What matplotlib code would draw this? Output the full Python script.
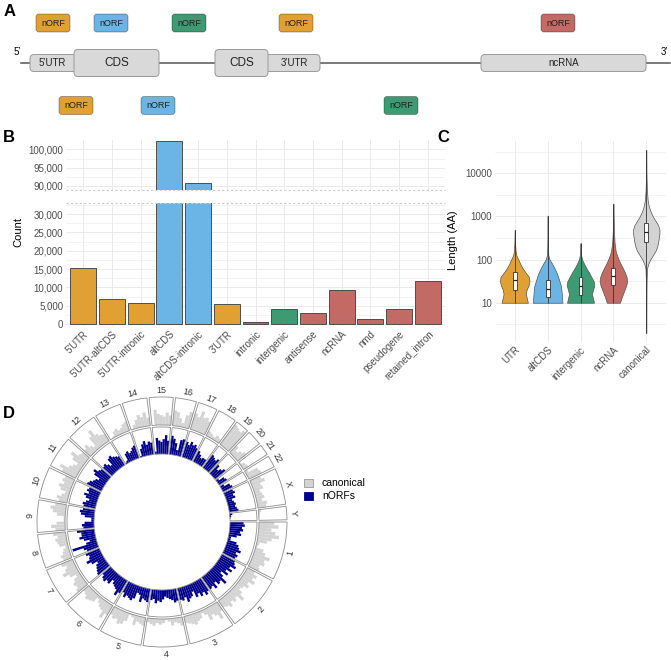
import numpy as np
import matplotlib
matplotlib.use("Agg")
import matplotlib.pyplot as plt
from matplotlib.patches import FancyBboxPatch, Patch

plt.rcParams['font.family'] = ['Liberation Sans', 'DejaVu Sans']

W, H = 671, 660
fig = plt.figure(figsize=(W / 100, H / 100), dpi=100)


def px_axes(x0, y0, x1, y1, **kw):
    # axes from a pixel box (top-left origin)
    return fig.add_axes([x0 / W, 1 - y1 / H, (x1 - x0) / W, (y1 - y0) / H], **kw)


group_col = {"UTR": "#E1A033", "altCDS": "#6BB4E6", "intergenic": "#3D9A72",
             "ncRNA": "#C26A64", "canonical": "#D3D3D3"}
grid_col = "#EBEBEB"
tick_col = "#4D4D4D"

# ---------------- data ----------------
# A: schematic transcript (positions in schematic units)
feat_names = ["5’UTR", "3’UTR", "ncRNA", "CDS", "CDS"]
feat_start = [30, 250, 481, 74, 215]
feat_end = [80, 320, 646, 159, 268]
feat_kind = ["utr", "utr", "utr", "cds", "cds"]
norf_top_start = [36, 94, 172, 279, 541]
norf_top_group = ["UTR", "altCDS", "intergenic", "UTR", "ncRNA"]
norf_bot_start = [59, 141, 384]
norf_bot_group = ["UTR", "altCDS", "intergenic"]

# B: nORF counts per class
b_cats = ["5'UTR", "5'UTR-altCDS", "5'UTR-intronic", "altCDS", "altCDS-intronic",
          "3'UTR", "intronic", "intergenic", "antisense", "ncRNA", "nmd",
          "pseudogene", "retained_intron"]
b_counts = [15200, 6750, 5820, 102200, 90700, 5380, 550, 4020, 3090, 9290, 1450,
            4020, 11750]
b_group = ["UTR", "UTR", "UTR", "altCDS", "altCDS", "UTR", "intergenic",
           "intergenic", "ncRNA", "ncRNA", "ncRNA", "ncRNA", "ncRNA"]

# C: length distributions (log10 length, violin half width)
c_cats = ["UTR", "altCDS", "intergenic", "ncRNA", "canonical"]
c_levels = [
    [1.0, 1.1, 1.2, 1.3, 1.4, 1.5, 1.6, 1.7, 1.8, 1.9, 2.0, 2.1, 2.2, 2.4, 2.69],
    [1.0, 1.1, 1.2, 1.3, 1.4, 1.5, 1.6, 1.7, 1.8, 1.9, 2.0, 2.1, 2.3, 2.6, 3.02],
    [1.0, 1.1, 1.2, 1.3, 1.4, 1.5, 1.6, 1.7, 1.8, 1.9, 2.0, 2.1, 2.2, 2.38],
    [1.0, 1.1, 1.2, 1.3, 1.4, 1.5, 1.6, 1.7, 1.8, 1.9, 2.0, 2.1, 2.2, 2.4, 2.7, 3.3],
    [0.3, 1.0, 1.5, 1.8, 1.9, 2.0, 2.1, 2.2, 2.3, 2.4, 2.5, 2.6, 2.7, 2.8, 2.9,
     3.0, 3.1, 3.2, 3.3, 3.4, 3.6, 4.0, 4.54],
]
c_widths = [
    [0.40, 0.37, 0.34, 0.36, 0.42, 0.45, 0.43, 0.33, 0.24, 0.17, 0.11, 0.05, 0.025, 0.01, 0.003],
    [0.45, 0.44, 0.43, 0.42, 0.40, 0.36, 0.32, 0.27, 0.21, 0.14, 0.06, 0.02, 0.01, 0.005, 0.002],
    [0.41, 0.38, 0.35, 0.38, 0.42, 0.40, 0.33, 0.26, 0.18, 0.11, 0.05, 0.02, 0.01, 0.003],
    [0.20, 0.24, 0.29, 0.34, 0.39, 0.42, 0.40, 0.35, 0.29, 0.22, 0.16, 0.11, 0.07, 0.035, 0.015, 0.002],
    [0.003, 0.005, 0.01, 0.025, 0.06, 0.12, 0.20, 0.28, 0.33, 0.36, 0.38, 0.40, 0.40,
     0.36, 0.28, 0.20, 0.14, 0.09, 0.06, 0.04, 0.02, 0.006, 0.002],
]
c_q1 = [19.6, 13.8, 15, 26, 263]
c_med = [34, 21, 24.7, 42, 427]
c_q3 = [52, 34, 40, 65, 692]

# D: genome density (fraction of track height) per chromosome bin
chrom_names = [str(i) for i in range(1, 23)] + ["X", "Y"]
chrom_len_mb = [249.0, 242.2, 198.3, 190.2, 181.5, 170.8, 159.3, 145.1, 138.4, 133.8,
                135.1, 133.3, 114.4, 107.0, 102.0, 90.3, 83.3, 80.4, 58.6, 64.4,
                46.7, 50.8, 156.0, 57.2]
canonical_density = [
    [0.55, 0.7, 0.45, 0.6, 0.75, 0.5, 0.35, 0.1, 0.05, 0.3, 0.4, 0.6, 0.45, 0.5, 0.35, 0.4],
    [0.3, 0.45, 0.35, 0.5, 0.3, 0.4, 0.25, 0.2, 0.35, 0.55, 0.3, 0.4, 0.3, 0.45, 0.35, 0.3],
    [0.35, 0.6, 0.4, 0.3, 0.45, 0.2, 0.1, 0.25, 0.3, 0.4, 0.35, 0.3, 0.25],
    [0.3, 0.2, 0.15, 0.25, 0.1, 0.05, 0.15, 0.2, 0.15, 0.25, 0.2, 0.15],
    [0.3, 0.25, 0.2, 0.35, 0.1, 0.05, 0.3, 0.45, 0.5, 0.35, 0.4, 0.3],
    [0.4, 0.6, 0.35, 0.3, 0.2, 0.1, 0.3, 0.35, 0.4, 0.3, 0.25],
    [0.45, 0.35, 0.4, 0.3, 0.15, 0.35, 0.55, 0.4, 0.3, 0.45],
    [0.3, 0.35, 0.25, 0.2, 0.1, 0.3, 0.35, 0.4, 0.3, 0.45],
    [0.35, 0.5, 0.3, 0.05, 0.05, 0.3, 0.45, 0.55, 0.4],
    [0.3, 0.4, 0.25, 0.15, 0.35, 0.45, 0.3, 0.4, 0.35],
    [0.55, 0.7, 0.4, 0.3, 0.2, 0.45, 0.6, 0.35, 0.3],
    [0.3, 0.4, 0.25, 0.15, 0.5, 0.7, 0.45, 0.35, 0.3],
    [0.0, 0.05, 0.2, 0.25, 0.15, 0.2, 0.3, 0.35],
    [0.0, 0.15, 0.3, 0.45, 0.35, 0.5, 0.3],
    [0.0, 0.55, 0.4, 0.35, 0.3, 0.45, 0.35],
    [0.55, 0.5, 0.3, 0.15, 0.45, 0.6],
    [0.6, 0.5, 0.75, 0.55, 0.6, 0.5],
    [0.2, 0.15, 0.1, 0.2, 0.15],
    [0.9, 0.85, 0.8, 0.9],
    [0.35, 0.2, 0.3, 0.4],
    [0.05, 0.15, 0.2],
    [0.1, 0.45, 0.5],
    [0.4, 0.5, 0.3, 0.35, 0.2, 0.25, 0.3, 0.2, 0.35, 0.3],
    [0.1, 0.05, 0.02, 0.0],
]
norf_density = [
    [0.5, 0.55, 0.45, 0.5, 0.4, 0.45, 0.3, 0.1, 0.1, 0.35, 0.45, 0.5, 0.6, 0.45, 0.55, 0.5],
    [0.55, 0.6, 0.7, 0.5, 0.65, 0.45, 0.6, 0.35, 0.5, 0.75, 0.55, 0.6, 0.45, 0.65, 0.5, 0.55],
    [0.55, 0.65, 0.5, 0.6, 0.45, 0.55, 0.3, 0.45, 0.5, 0.6, 0.4, 0.5, 0.45],
    [0.45, 0.5, 0.4, 0.35, 0.3, 0.25, 0.35, 0.45, 0.4, 0.5, 0.35, 0.4],
    [0.5, 0.45, 0.4, 0.55, 0.3, 0.25, 0.5, 0.6, 0.55, 0.5, 0.6, 0.45],
    [0.55, 0.7, 0.5, 0.45, 0.4, 0.3, 0.5, 0.45, 0.55, 0.5, 0.4],
    [0.55, 0.5, 0.45, 0.4, 0.3, 0.5, 0.65, 0.5, 0.45, 0.55],
    [0.45, 0.55, 0.95, 0.4, 0.25, 0.45, 0.6, 0.5, 0.5, 0.65],
    [0.4, 0.45, 0.35, 0.1, 0.1, 0.35, 0.5, 0.55, 0.45],
    [0.45, 0.5, 0.4, 0.3, 0.45, 0.55, 0.4, 0.5, 0.45],
    [0.6, 0.55, 0.45, 0.4, 0.3, 0.55, 0.65, 0.5, 0.45],
    [0.45, 0.5, 0.4, 0.3, 0.55, 0.6, 0.5, 0.45, 0.4],
    [0.05, 0.1, 0.35, 0.4, 0.3, 0.35, 0.45, 0.5],
    [0.05, 0.3, 0.45, 0.55, 0.4, 0.5, 0.45],
    [0.1, 0.6, 0.5, 0.45, 0.55, 0.7, 0.5],
    [0.7, 0.6, 0.45, 0.2, 0.6, 0.65],
    [0.6, 0.5, 0.65, 0.55, 0.6, 0.5],
    [0.45, 0.35, 0.25, 0.3, 0.3],
    [0.6, 0.55, 0.5, 0.6],
    [0.45, 0.3, 0.4, 0.5],
    [0.1, 0.3, 0.35],
    [0.15, 0.35, 0.4],
    [0.35, 0.4, 0.3, 0.35, 0.2, 0.25, 0.3, 0.25, 0.3, 0.35],
    [0.1, 0.05, 0.02, 0.0],
]

# ---------------- panel A ----------------
axA = px_axes(0, 0, W, 120)
axA.set_xlim(0, W)
axA.set_ylim(120, 0)
axA.set_axis_off()
axA.plot([21, 670], [63, 63], color="#555555", lw=1.1, zorder=1)
axA.text(17, 52, "5’", fontsize=7, ha="center", va="center")
axA.text(664, 52, "3’", fontsize=7, ha="center", va="center")
for name, s, e, k in zip(feat_names, feat_start, feat_end, feat_kind):
    h = 27 if k == "cds" else 17
    box = FancyBboxPatch((s, 63 - h / 2), e - s, h, boxstyle="round,pad=0,rounding_size=4",
                         facecolor="#D9D9D9", edgecolor="#9A9A9A", lw=0.7, zorder=2)
    axA.add_patch(box)
# visible part of each box (UTRs are partly hidden under the CDS boxes)
label_x = [(30 + 74) / 2, (268 + 320) / 2, (481 + 646) / 2, (74 + 159) / 2, (215 + 268) / 2]
for name, cx, k in zip(feat_names, label_x, feat_kind):
    axA.text(cx, 63.5, name, fontsize=8.5 if k == "cds" else 7, ha="center",
             va="center", color="#222222", zorder=3)
for starts, grps, yc in [(norf_top_start, norf_top_group, 23),
                         (norf_bot_start, norf_bot_group, 105.5)]:
    for s, g in zip(starts, grps):
        box = FancyBboxPatch((s, yc - 9), 34, 18, boxstyle="round,pad=0,rounding_size=3",
                             facecolor=group_col[g], edgecolor=(0, 0, 0, 0.35), lw=0.6)
        axA.add_patch(box)
        axA.text(s + 17, yc + 0.5, "nORF", fontsize=6.5, ha="center", va="center",
                 color="#222222")

# ---------------- panel B ----------------
xb = np.arange(len(b_cats))
bcols = [group_col[g] for g in b_group]
axBt = px_axes(66, 140, 445, 190)
axBb = px_axes(66, 203, 445, 326)
for ax in (axBt, axBb):
    ax.bar(xb, b_counts, width=0.9, color=bcols, edgecolor="#4D4D4D", lw=0.7, zorder=3)
    ax.set_xlim(-0.6, 12.6)
    for sp in ax.spines.values():
        sp.set_visible(False)
    ax.tick_params(length=0, labelsize=7, labelcolor=tick_col, pad=2)
    ax.set_xticks(xb)
    ax.grid(True, which="major", color=grid_col, lw=0.7, zorder=0)
    ax.grid(True, which="minor", axis="y", color=grid_col, lw=0.4, zorder=0)
    ax.set_axisbelow(True)
axBt.set_ylim(88900, 102560)
axBt.set_yticks([90000, 95000, 100000])
axBt.set_yticks([92500, 97500], minor=True)
axBt.set_xticklabels([])
axBb.set_ylim(-550, 33060)
axBb.set_yticks(np.arange(0, 30001, 5000))
axBb.set_yticks(np.arange(2500, 32501, 5000), minor=True)
axBb.tick_params(which="minor", length=0)
axBt.tick_params(which="minor", length=0)
for ax in (axBt, axBb):
    ax.set_yticklabels([f"{int(v):,}" for v in ax.get_yticks()])
axBb.set_xticklabels(b_cats, rotation=45, ha="right", rotation_mode="anchor")
axBt.axhline(88900, color="#CCCCCC", lw=0.8, ls=(0, (2, 2)), zorder=4, clip_on=False)
axBb.axhline(33060, color="#CCCCCC", lw=0.8, ls=(0, (2, 2)), zorder=4, clip_on=False)
fig.text(18 / W, 1 - 232 / H, "Count", rotation=90, fontsize=8, ha="center", va="center")

# ---------------- panel C ----------------
axC = px_axes(495, 141, 666, 342)
axC.set_yscale("log")
for i, (lv, wd) in enumerate(zip(c_levels, c_widths)):
    pos = i + 1
    y = 10 ** np.array(lv)
    wd = np.array(wd)
    axC.fill_betweenx(y, pos - wd, pos + wd, facecolor=group_col[c_cats[i]],
                      edgecolor="#555555", lw=0.5, zorder=3)
    axC.vlines(pos, y[0], y[-1], color="#333333", lw=0.6, zorder=4)
    axC.bar(pos, c_q3[i] - c_q1[i], bottom=c_q1[i], width=0.12, color="white",
            edgecolor="#333333", lw=0.6, zorder=5)
    axC.hlines(c_med[i], pos - 0.06, pos + 0.06, color="#222222", lw=0.9, zorder=6)
axC.set_xlim(0.4, 5.6)
axC.set_ylim(10 ** 0.09, 10 ** 4.75)
axC.set_yticks([10, 100, 1000, 10000])
axC.set_yticklabels(["10", "100", "1000", "10000"])
axC.set_yticks([10 ** 0.5, 10 ** 1.5, 10 ** 2.5, 10 ** 3.5, 10 ** 4.5], minor=True)
axC.set_yticklabels([], minor=True)
axC.set_xticks(np.arange(1, 6))
axC.set_xticklabels(c_cats, rotation=45, ha="right", rotation_mode="anchor")
axC.tick_params(which="both", length=0, labelsize=7, labelcolor=tick_col, pad=2)
axC.grid(True, which="major", color=grid_col, lw=0.7, zorder=0)
axC.grid(True, which="minor", axis="y", color=grid_col, lw=0.4, zorder=0)
axC.set_axisbelow(True)
for sp in axC.spines.values():
    sp.set_visible(False)
fig.text(453 / W, 1 - 240 / H, "Length (AA)", rotation=90, fontsize=8, ha="center",
         va="center")

# ---------------- panel D ----------------
R = 138
axD = px_axes(162 - R, 522 - R, 162 + R, 522 + R, projection="polar")
axD.set_theta_zero_location("E")
axD.set_theta_direction(-1)
axD.set_ylim(0, R)
axD.set_axis_off()
gap = 1.0
scale = (360 - gap * len(chrom_len_mb)) / sum(chrom_len_mb)
inner0, inner_h = 68, 27
outer0, outer_h = 97, 28
start = 0.0
for name, ln, can, nrf in zip(chrom_names, chrom_len_mb, canonical_density, norf_density):
    span = ln * scale
    mid = start + span / 2
    for base, hgt, vals, c in [(outer0, outer_h, can, "#D3D3D3"),
                               (inner0, inner_h, nrf, "#00008B")]:
        n = len(vals)
        bw = span / n
        cen = start + bw * (np.arange(n) + 0.5)
        axD.bar(np.radians(cen), np.array(vals) * hgt, width=np.radians(bw), bottom=base,
                color=c, lw=0, zorder=2)
        axD.bar(np.radians(mid), hgt, width=np.radians(span), bottom=base, fill=False,
                edgecolor="#8C8C8C", lw=0.6, zorder=3)
    phi = -mid  # screen angle (ccw)
    rot = phi - 90 if (mid % 360) > 180 else phi + 90
    axD.text(np.radians(mid), 132, name, fontsize=6.5, color="#333333", ha="center",
             va="center", rotation=rot, rotation_mode="anchor")
    start += span + gap

fig.legend(handles=[Patch(facecolor="#D3D3D3", edgecolor="#999999", lw=0.6),
                    Patch(facecolor="#00008B", edgecolor="#00008B", lw=0.6)],
           labels=["canonical", "nORFs"], loc="upper left",
           bbox_to_anchor=(297 / W, 1 - 471 / H), frameon=False, fontsize=7.5,
           handlelength=0.8, handleheight=0.8, labelspacing=0.3, handletextpad=0.9,
           borderpad=0.2)

# panel letters
for lab, x, y in [("A", 4, 4), ("B", 3, 130), ("C", 437, 130), ("D", 3, 406)]:
    fig.text(x / W, 1 - y / H, lab, fontsize=12, fontweight="bold", ha="left", va="top")

fig.savefig("out.png", dpi=100)
